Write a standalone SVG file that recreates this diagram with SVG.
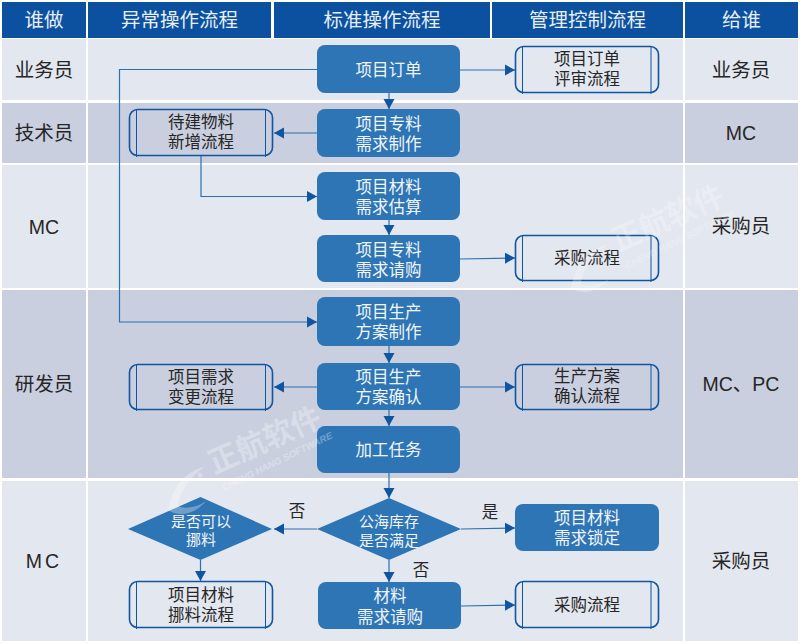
<svg xmlns="http://www.w3.org/2000/svg" width="800" height="644" viewBox="0 0 800 644">
<defs>
<marker id="arr" markerUnits="userSpaceOnUse" markerWidth="11" markerHeight="12" refX="10" refY="6" orient="auto"><path d="M0,0.5 L10,6 L0,11.5 Z" fill="#0F559F"/></marker>
<g id="wmark">
<path d="M-46,36 C-42,12 -26,-4 -10,-7 C-24,4 -35,18 -36,32 C-28,36 -14,32 -8,27 C-18,40 -36,44 -46,36 Z" fill="#fff"/>
<circle cx="-14" cy="1" r="2.500" fill="#fff"/>
<text class="wm" transform="rotate(-24)">正航软件</text>
<text class="wm2" transform="translate(10,17) rotate(-26)">CHENG HANG SOFTWARE</text>
</g>
</defs>
<style>
text{font-family:"Liberation Sans","Noto Sans CJK SC",sans-serif;text-anchor:middle;font-size:16.500px;fill:#262626}
.h{font-size:19.500px;fill:#E8EEF6}
.c{font-size:19.500px}
.d{font-size:15px}
.w{fill:#F2F5FA}
.p{fill:#2E75B6}
.s{fill:none;stroke:#0F559F;stroke-width:1.600}
.v{fill:none;stroke:#0F559F;stroke-width:1}
.l{fill:none;stroke:#2E6FB0;stroke-width:1.200}
.wm{fill:#fff;font-weight:700;font-size:30px;text-anchor:start}
.wm2{fill:#fff;font-size:9.500px;font-style:italic;font-weight:700;text-anchor:start}
</style>
<rect width="800" height="644" fill="#fff"/>
<g id="header" fill="#0B519F">
<rect x="2" y="2" width="84" height="36"/><rect x="88" y="2" width="183" height="36"/><rect x="274" y="2" width="216" height="36"/><rect x="492" y="2" width="191" height="36"/><rect x="685" y="2" width="113" height="36"/>
<text class="h" x="44" y="27">谁做</text><text class="h" x="179.500" y="27">异常操作流程</text><text class="h" x="382" y="27">标准操作流程</text><text class="h" x="587.500" y="27">管理控制流程</text><text class="h" x="741.500" y="27">给谁</text>
</g>
<g id="rows">
<g fill="#E3E7EF"><rect x="2" y="39" width="84" height="61"/><rect x="88" y="39" width="595" height="61"/><rect x="685" y="39" width="113" height="61"/>
<rect x="2" y="165" width="84" height="123"/><rect x="88" y="165" width="595" height="123"/><rect x="685" y="165" width="113" height="123"/>
<rect x="2" y="481" width="84" height="160"/><rect x="88" y="481" width="595" height="160"/><rect x="685" y="481" width="113" height="160"/></g>
<g fill="#C9CFDF"><rect x="2" y="103" width="84" height="60"/><rect x="88" y="103" width="595" height="60"/><rect x="685" y="103" width="113" height="60"/>
<rect x="2" y="290" width="84" height="188"/><rect x="88" y="290" width="595" height="188"/><rect x="685" y="290" width="113" height="188"/></g>
<text class="c" x="44" y="76.500">业务员</text><text class="c" x="44" y="139.500">技术员</text><text class="c" x="44" y="234">MC</text><text class="c" x="44" y="391">研发员</text><text class="c" x="44" y="568" letter-spacing="3">MC</text>
<text class="c" x="741" y="76.500">业务员</text><text class="c" x="741" y="140">MC</text><text class="c" x="741" y="232.500">采购员</text><text class="c" x="741" y="391">MC、PC</text><text class="c" x="741" y="568">采购员</text>
</g>
<g id="connectors">
<path class="l" marker-end="url(#arr)" d="M389,93V109"/>
<path class="l" marker-end="url(#arr)" d="M389,220V235"/>
<path class="l" marker-end="url(#arr)" d="M389,346V363"/>
<path class="l" marker-end="url(#arr)" d="M389,410V426"/>
<path class="l" marker-end="url(#arr)" d="M389,473V498"/>
<path class="l" marker-end="url(#arr)" d="M389,560V582"/>
<path class="l" marker-end="url(#arr)" d="M200.500,560V581"/>
<path class="l" marker-end="url(#arr)" d="M460,70H515"/>
<path class="l" marker-end="url(#arr)" d="M460,259L515,258"/>
<path class="l" marker-end="url(#arr)" d="M460,387H515"/>
<path class="l" marker-end="url(#arr)" d="M461,529L515,528"/>
<path class="l" marker-end="url(#arr)" d="M461,606L515,605"/>
<path class="l" marker-end="url(#arr)" d="M317,133H274"/>
<path class="l" marker-end="url(#arr)" d="M317,387H274"/>
<path class="l" marker-end="url(#arr)" d="M317,529H274"/>
<path class="l" marker-end="url(#arr)" d="M317,69.500H119.500V322H317"/>
<path class="l" marker-end="url(#arr)" d="M201,156V196.500H317"/>
</g>
<g id="n1"><rect class="p" x="317" y="45" width="143" height="48" rx="8"/><text class="w" x="388.500" y="75.500">项目订单</text></g>
<g id="n2"><rect class="p" x="317" y="109" width="143" height="48" rx="8"/><text class="w" x="388.500" y="129.500">项目专料<tspan x="388.500" dy="20">需求制作</tspan></text></g>
<g id="n3"><rect class="p" x="317" y="172" width="143" height="48" rx="8"/><text class="w" x="388.500" y="192.500">项目材料<tspan x="388.500" dy="20">需求估算</tspan></text></g>
<g id="n4"><rect class="p" x="317" y="235" width="143" height="47" rx="8"/><text class="w" x="388.500" y="255.500">项目专料<tspan x="388.500" dy="20">需求请购</tspan></text></g>
<g id="n5"><rect class="p" x="317" y="297" width="143" height="49" rx="8"/><text class="w" x="388.500" y="317.500">项目生产<tspan x="388.500" dy="20">方案制作</tspan></text></g>
<g id="n6"><rect class="p" x="317" y="363" width="143" height="47" rx="8"/><text class="w" x="388.500" y="382.500">项目生产<tspan x="388.500" dy="20">方案确认</tspan></text></g>
<g id="n7"><rect class="p" x="317" y="426" width="143" height="47" rx="8"/><text class="w" x="388.500" y="455.500">加工任务</text></g>
<g id="d1"><path class="p" d="M317,529L389,498L461,529L389,560Z"/><text class="w d" x="389" y="527">公海库存<tspan x="389" dy="19">是否满足</tspan></text></g>
<g id="d2"><path class="p" d="M128,529L200.500,497L272,529L200.500,560Z"/><text class="w d" x="201" y="527">是否可以<tspan x="201" dy="18">挪料</tspan></text></g>
<g id="n8"><rect class="p" x="515" y="504" width="144" height="47" rx="8"/><text class="w" x="587" y="524">项目材料<tspan x="587" dy="20">需求锁定</tspan></text></g>
<g id="n9"><rect class="p" x="318" y="582" width="143" height="47" rx="8"/><text class="w" x="390" y="602">材料<tspan x="390" dy="21">需求请购</tspan></text></g>
<g id="s1"><rect class="s" x="515.500" y="46.500" width="143" height="46" rx="8"/><path class="v" d="M522.500,47V94M651,47V94"/><text x="587" y="65">项目订单<tspan x="587" dy="20">评审流程</tspan></text></g>
<g id="s2"><rect class="s" x="129.500" y="109.500" width="143" height="46" rx="8"/><path class="v" d="M136.500,110V157M265.500,110V157"/><text x="201" y="128">待建物料<tspan x="201" dy="20">新增流程</tspan></text></g>
<g id="s3"><rect class="s" x="515.500" y="235.500" width="143" height="45" rx="8"/><path class="v" d="M522.500,236V282M651,236V282"/><text x="587" y="264">采购流程</text></g>
<g id="s4"><rect class="s" x="129.500" y="364.500" width="143" height="45" rx="8"/><path class="v" d="M136.500,365V411M265.500,365V411"/><text x="201" y="383">项目需求<tspan x="201" dy="19.500">变更流程</tspan></text></g>
<g id="s5"><rect class="s" x="515.500" y="364.500" width="143" height="45" rx="8"/><path class="v" d="M522.500,365V411M651,365V411"/><text x="587" y="382">生产方案<tspan x="587" dy="20">确认流程</tspan></text></g>
<g id="s6"><rect class="s" x="129.500" y="581.500" width="143" height="46" rx="8"/><path class="v" d="M136.500,582V629M265.500,582V629"/><text x="201" y="601">项目材料<tspan x="201" dy="20">挪料流程</tspan></text></g>
<g id="s7"><rect class="s" x="515.500" y="581.500" width="143" height="46" rx="8"/><path class="v" d="M522.500,582V629M651,582V629"/><text x="587" y="611">采购流程</text></g>
<g id="labels"><text x="297" y="517">否</text><text x="490" y="518">是</text><text x="421" y="576">否</text></g>
<use href="#wmark" x="214" y="474" opacity=".3"/>
<use href="#wmark" x="617" y="252" opacity=".25"/>
</svg>
